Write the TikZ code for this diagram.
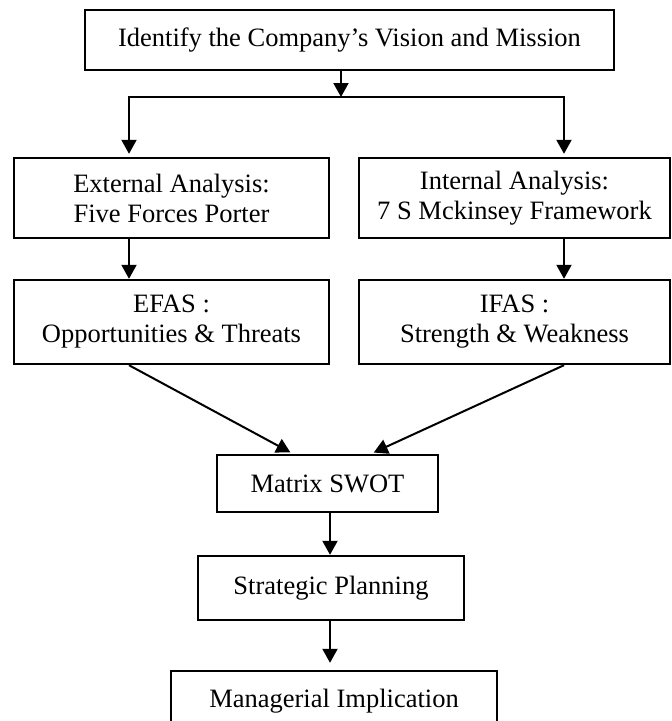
\documentclass[tikz,border=0pt]{standalone}
\usepackage{fontspec}
\setmainfont{Liberation Serif}
\usetikzlibrary{arrows.meta,calc}
\begin{document}
\begin{tikzpicture}[x=1pt,y=-1pt,
  box/.style={draw,line width=2.4pt,inner sep=0pt,align=center,
    font=\fontsize{26.5}{30}\selectfont},
  arr/.style={line width=2pt,-{Triangle[width=15pt,length=14pt]}}]
\clip (0,0) rectangle (672,721);
\fill[white] (0,0) rectangle (672,721);
\node[box,minimum width=529pt,minimum height=60pt] (top) at (349.5,40) {Identify the Company’s Vision and Mission};
\node[box,minimum width=315pt,minimum height=80pt] (lb1) at (171.5,198) {External Analysis:\\Five Forces Porter};
\node[box,minimum width=311pt,minimum height=80pt] (rb1) at (514.5,198) {Internal Analysis:\\7 S Mckinsey Framework};
\node[box,minimum width=315pt,minimum height=84pt] (lb2) at (171.5,322) {EFAS :\\Opportunities \& Threats};
\node[box,minimum width=311pt,minimum height=84pt] (rb2) at (514.5,322) {IFAS :\\Strength \& Weakness};
\node[box,minimum width=221pt,minimum height=57pt] (swot) at (327.5,483.5) {Matrix SWOT};
\node[box,minimum width=266pt,minimum height=64pt] (strat) at (331,588) {Strategic Planning};
\node[box,minimum width=326pt,minimum height=60pt] (man) at (334,701) {Managerial Implication};
\coordinate (j) at (341,97);
\coordinate (lx) at (129,0);
\coordinate (rx) at (564,0);
\coordinate (slx) at (293,0);
\coordinate (srx) at (371,0);
\coordinate (mx) at (330,0);
\draw[arr] (top.south -| j) -- (j);
\draw[arr,shorten >=3pt] (j) -| (lb1.north -| lx);
\draw[arr,shorten >=3pt] (j) -| (rb1.north -| rx);
\draw[arr] (lb1.south -| lx) -- (lb2.north -| lx);
\draw[arr] (rb1.south -| rx) -- (rb2.north -| rx);
\draw[arr,shorten >=3pt] (lb2.south -| lx) -- (swot.north -| slx);
\draw[arr,shorten >=3pt] (rb2.south -| rx) -- (swot.north -| srx);
\draw[arr] (swot.south -| mx) -- (strat.north -| mx);
\draw[arr,shorten >=7pt] (strat.south -| mx) -- (man.north -| mx);
\end{tikzpicture}
\end{document}
